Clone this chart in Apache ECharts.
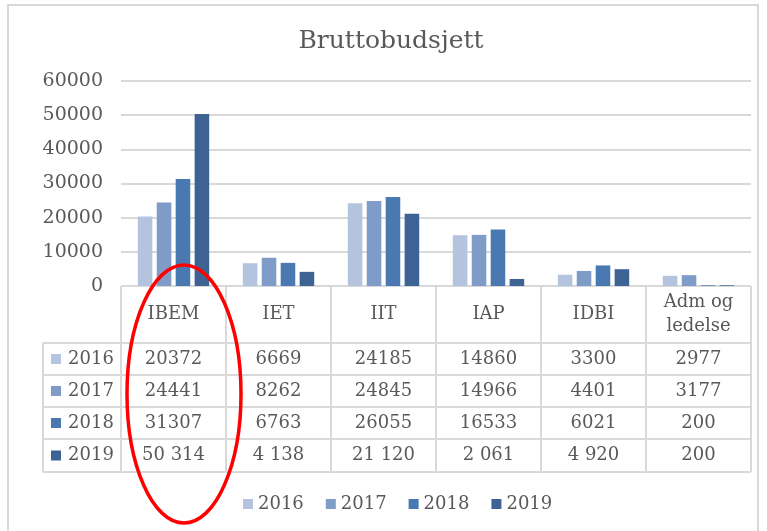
<!DOCTYPE html>
<html>
<head>
<meta charset="utf-8">
<script src="https://cdn.jsdelivr.net/npm/echarts@6/dist/echarts.min.js"></script>
<style>
  html, body { margin: 0; padding: 0; background: #fff; }
  #main { width: 767px; height: 531px; }
</style>
</head>
<body>
<div id="main"></div>
<script>
  // data
  var categories = ['IBEM', 'IET', 'IIT', 'IAP', 'IDBI', 'Adm og\nledelse'];
  var years = ['2016', '2017', '2018', '2019'];
  var v2016 = [20372, 6669, 24185, 14860, 3300, 2977];
  var v2017 = [24441, 8262, 24845, 14966, 4401, 3177];
  var v2018 = [31307, 6763, 26055, 16533, 6021, 200];
  var v2019 = [50314, 4138, 21120, 2061, 4920, 200];
  var yMin = 0, yMax = 60000, yStep = 10000;

  var colors = ['#b4c3de', '#7f9cc8', '#4a79b2', '#3c6394'];
  var font = 'DejaVu Serif';
  var textColor = '#595959';
  var lineColor = '#d9d9d9';

  var rows = [v2016, v2017, v2018, v2019];

  // 2019 row is written with a space as thousands separator in the table
  function cellText(v, rowIdx) {
    if (rowIdx === 3 && v >= 1000) {
      var s = String(v);
      return s.slice(0, s.length - 3) + ' ' + s.slice(s.length - 3);
    }
    return String(v);
  }

  var chart = echarts.init(document.getElementById('main'));

  var series = years.map(function (y, i) {
    return {
      name: y,
      type: 'bar',
      data: rows[i],
      barGap: '30%',
      barCategoryGap: '32%',
      itemStyle: { color: colors[i] }
    };
  });

  chart.setOption({
    animation: false,
    color: colors,
    grid: { left: 121, right: 16, top: 81, bottom: 245 },
    legend: {
      data: years,
      left: 238,
      top: 490,
      icon: 'rect',
      itemWidth: 10,
      itemHeight: 10,
      itemGap: 22,
      textStyle: { fontFamily: font, fontSize: 18, color: textColor }
    },
    xAxis: {
      type: 'category',
      data: categories,
      axisLine: { show: false },
      axisTick: { show: false },
      axisLabel: { show: false }
    },
    yAxis: {
      type: 'value',
      min: yMin,
      max: yMax,
      interval: yStep,
      axisLabel: {
        margin: 18, fontFamily: font, fontSize: 19, color: textColor,
        formatter: function (v) { return String(v); }
      },
      splitLine: { lineStyle: { color: lineColor, width: 2 } }
    },
    series: series
  });

  // build the data table below the plot
  var g = [];
  var centers = categories.map(function (c) { return chart.convertToPixel({ xAxisIndex: 0 }, c); });
  var colW = centers[1] - centers[0];
  var left = centers[0] - colW / 2;
  var right = centers[centers.length - 1] + colW / 2;
  var axisY = chart.convertToPixel({ yAxisIndex: 0 }, 0);
  var rowLines = [343, 375, 407, 439, 472];
  var legendX = 43;

  function line(x1, y1, x2, y2) {
    g.push({ type: 'line', shape: { x1: x1, y1: y1, x2: x2, y2: y2 }, style: { stroke: lineColor, lineWidth: 2 }, silent: true });
  }
  function text(x, y, s, size) {
    g.push({ type: 'text', x: x, y: y, style: { text: s, fontFamily: font, fontSize: size || 18, fill: textColor, align: 'center', verticalAlign: 'middle', lineHeight: 24 } });
  }

  // frame
  g.push({ type: 'rect', shape: { x: 8, y: 5, width: 750, height: 540 }, style: { fill: null, stroke: '#d9d9d9', lineWidth: 2 }, silent: true });

  line(left, axisY, right, axisY);
  rowLines.forEach(function (y) { line(legendX, y, right, y); });
  for (var k = 0; k <= categories.length; k++) {
    var x = left + k * colW;
    line(x, axisY, x, rowLines[rowLines.length - 1]);
  }
  line(legendX, rowLines[0], legendX, rowLines[rowLines.length - 1]);

  categories.forEach(function (c, j) {
    text(centers[j], (axisY + rowLines[0]) / 2, c);
  });
  years.forEach(function (y, i) {
    var cy = (rowLines[i] + rowLines[i + 1]) / 2;
    g.push({ type: 'rect', shape: { x: 51, y: cy - 5, width: 10, height: 10 }, style: { fill: colors[i] } });
    text(91, cy, y);
    rows[i].forEach(function (v, j) { text(centers[j], cy, cellText(v, i)); });
  });

  // title
  g.push({ type: 'text', x: 391, y: 41, style: { text: 'Bruttobudsjett', fontFamily: font, fontSize: 25, fill: textColor, align: 'center', verticalAlign: 'middle' } });

  // red hand-drawn ellipse around IBEM
  g.push({ type: 'ellipse', shape: { cx: 184, cy: 394, rx: 57, ry: 129 }, style: { fill: null, stroke: '#ff0000', lineWidth: 3.5 }, z: 100 });

  chart.setOption({ graphic: g });
</script>
</body>
</html>
